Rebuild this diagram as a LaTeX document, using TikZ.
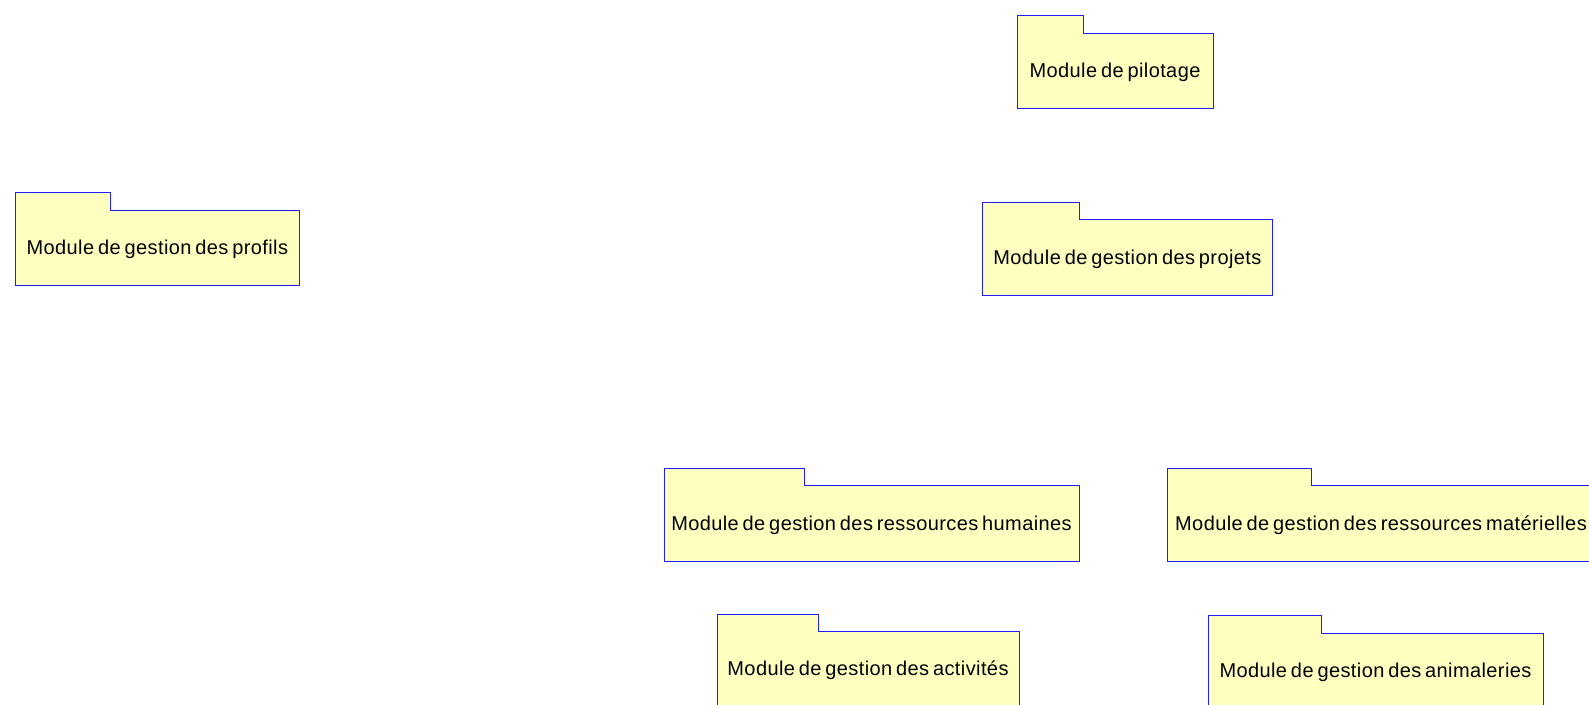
\documentclass[tikz,border=0pt]{standalone}
\usepackage{fontspec}
\setmainfont{Liberation Sans}
\newfontfamily\pkgfont{Liberation Sans}[LetterSpace=2,WordSpace=0.65]
\definecolor{pkgfill}{RGB}{255,255,192}
\definecolor{pkgline}{RGB}{30,30,255}
\tikzset{
  pkgshape/.style={draw=pkgline, fill=pkgfill, line width=1pt, line join=miter},
  pkglabel/.style={inner sep=0pt, font=\pkgfont\fontsize{20}{24}\selectfont, text=black}
}
% \pkg{name}{left}{tabtop}{tabright}{bodytop}{right}{bottom}{text}
\newcommand{\pkg}[8]{%
  \path[pkgshape] (#2,#7) -- (#2,#3) -- (#4,#3) -- (#4,#5) -- (#6,#5) -- (#6,#7) -- cycle;
  \node[pkglabel] (#1) at ({(#2+#6)/2},{(#5+#7)/2+2}) {#8};
}
\begin{document}
\begin{tikzpicture}[x=1pt,y=-1pt]
\useasboundingbox (0,0) rectangle (1589,704);
\clip (0,0) rectangle (1589,704);
\pkg{pil}{1017}{15.7}{1083}{33}{1213}{108}{Module de pilotage}
\pkg{prof}{15.7}{192}{110.7}{210}{299}{285}{Module de gestion des profils}
\pkg{proj}{982.7}{202}{1079}{219}{1272}{295}{Module de gestion des projets}
\pkg{rh}{664}{468}{804}{485}{1079}{561}{Module de gestion des ressources humaines}
\pkg{rm}{1167}{468}{1311}{485}{1595}{561}{Module de gestion des ressources matérielles}
\pkg{act}{717}{614}{818}{631}{1019}{705}{Module de gestion des activités}
\pkg{ani}{1208}{615}{1321}{633}{1543}{707}{Module de gestion des animaleries}
\end{tikzpicture}
\end{document}
